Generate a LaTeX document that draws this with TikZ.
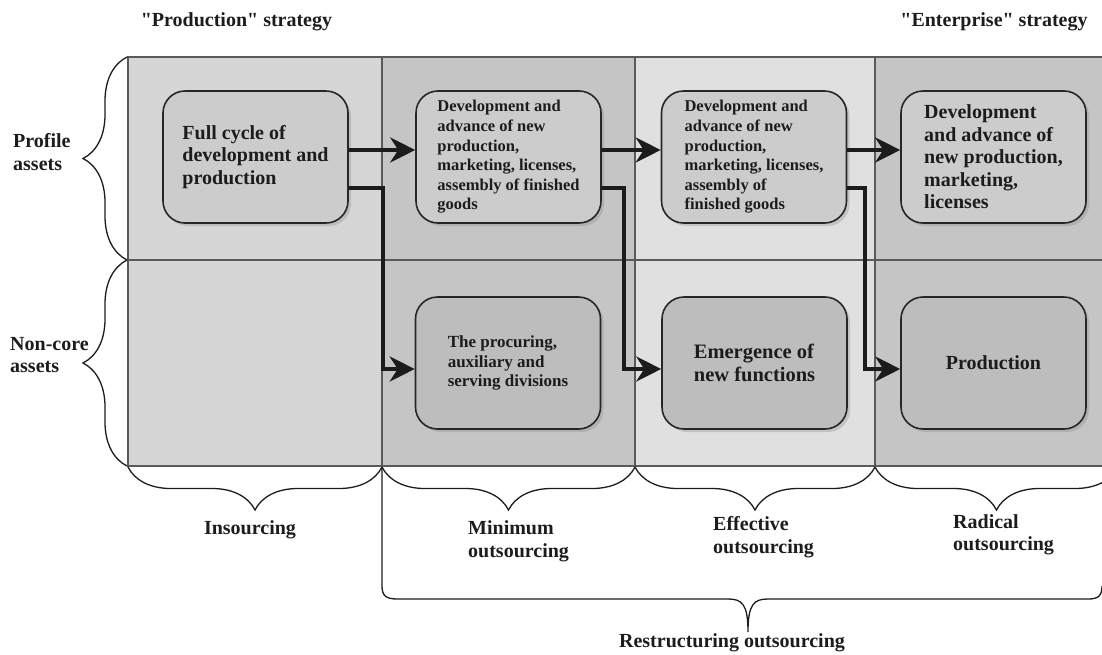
\documentclass[tikz,border=0pt]{standalone}
\usepackage{fontspec}
\setmainfont{Liberation Serif}[Ligatures=TeXOff]
\usepackage{tikz}
\usetikzlibrary{arrows.meta}
\usetikzlibrary{decorations.pathreplacing,shadows}

\definecolor{colA}{HTML}{D6D6D6}
\definecolor{colB}{HTML}{C5C5C5}
\definecolor{colC}{HTML}{E0E0E0}
\definecolor{gridline}{HTML}{5A5A5A}
\definecolor{boxtop}{HTML}{CCCCCC}
\definecolor{boxlow}{HTML}{BDBDBD}
\definecolor{boxline}{HTML}{262626}
\definecolor{inkc}{HTML}{1C1C1C}

\tikzset{
  big/.style={font=\fontsize{20}{22.5}\selectfont\bfseries},
  small/.style={font=\fontsize{16.5}{19.6}\selectfont\bfseries},
  box/.style={draw=boxline,line width=1.6pt,rounded corners=22pt,
    minimum width=185pt,minimum height=132pt,align=left,inner sep=0pt,
    text=inkc,drop shadow={opacity=0.3,shadow xshift=3pt,shadow yshift=-3pt}},
  topbox/.style={box,fill=boxtop},
  lowbox/.style={box,fill=boxlow},
  flow/.style={draw=inkc,line width=4.5pt,
    -{Stealth[length=25pt,width=25pt,inset=8pt]}},
  grp/.style={decorate,decoration={brace,amplitude=44pt},draw=inkc,line width=1.3pt},
  lbl/.style={big,text=inkc,align=left,inner sep=0pt}
}

\begin{document}
\begin{tikzpicture}[x=1pt,y=-1pt]

\useasboundingbox (0,0) rectangle (1102,654);

% columns
\fill[colA] (128,57) rectangle (382,466);
\fill[colB] (382,57) rectangle (635,466);
\fill[colC] (635,57) rectangle (875,466);
\fill[colB] (875,57) rectangle (1102,466);

\draw[gridline,line width=1.4pt] (1102,57) -- (128,57) -- (128,466) -- (1102,466);
\draw[gridline,line width=1.4pt] (128,260) -- (1102,260);
\draw[gridline,line width=1.4pt] (382,57) -- (382,466);
\draw[gridline,line width=1.4pt] (635,57) -- (635,466);
\draw[gridline,line width=1.4pt] (875,57) -- (875,466);

\coordinate (turn_a) at (383,0) ;
\coordinate (turn_b) at (624,0) ;
\coordinate (turn_c) at (865,0) ;

% boxes
\node[topbox,big] (box_full) at (255.5,157) {Full cycle of\\development and\\production};
\node[topbox,small] (box_dev_a) at (508.5,157) {Development and\\advance of new\\production,\\marketing, licenses,\\assembly of finished\\goods};
\node[topbox,small] (box_dev_b) at (754,157) {Development and\\advance of new\\production,\\marketing, licenses,\\assembly of\\finished goods};
\node[topbox,big] (box_dev_c) at (993.5,157) {Development\\and advance of\\new production,\\marketing,\\licenses};

\node[lowbox,font=\fontsize{17}{19.8}\selectfont\bfseries] (box_proc) at (508,363) {The procuring,\\auxiliary and\\serving divisions};
\node[lowbox,font=\fontsize{20.5}{23}\selectfont\bfseries] (box_new) at (754.5,363) {Emergence of\\new functions};
\node[lowbox,big] (box_prod) at (993.5,363) {Production};

% arrows
\draw[flow] ([yshift=7pt]box_full.east) -- ([yshift=7pt]box_dev_a.west);
\draw[flow] ([yshift=7pt]box_dev_a.east) -- ([yshift=7pt]box_dev_b.west);
\draw[flow] ([yshift=7pt]box_dev_b.east) -- ([yshift=7pt]box_dev_c.west);

\coordinate (in_proc) at ([yshift=-6pt]box_proc.west) ;
\coordinate (in_new) at ([yshift=-6pt]box_new.west) ;
\coordinate (in_prod) at ([yshift=-6pt]box_prod.west) ;

\draw[flow] ([yshift=-31pt]box_full.east) -| (in_proc -| turn_a) -- (in_proc);
\draw[flow] ([yshift=-31pt]box_dev_a.east) -| (in_new -| turn_b) -- (in_new);
\draw[flow] ([yshift=-31pt]box_dev_b.east) -| (in_prod -| turn_c) -- (in_prod);

% braces
\draw[grp] (127,260) -- (127,57);
\draw[grp] (127,466) -- (127,260);

\draw[grp,decoration={amplitude=43pt}] (382,467) -- (128,467);
\draw[grp,decoration={amplitude=43pt}] (635,467) -- (382,467);
\draw[grp,decoration={amplitude=43pt}] (875,467) -- (635,467);
\draw[grp,decoration={amplitude=43pt}] (1118,467) -- (875,467);

\draw[inkc,line width=1.3pt] (382,467) -- (382,586)
  .. controls (382,596) and (386,599) .. (398,599) -- (728,599)
  .. controls (742,599) and (748,604) .. (748,632)
  .. controls (748,604) and (754,599) .. (768,599) -- (1088,599)
  .. controls (1098,599) and (1102,596) .. (1102,586);

% labels
\node[lbl] (lbl_prodstrat) at (236.5,22) {"Production" strategy};
\node[lbl] (lbl_entstrat) at (994,22) {"Enterprise" strategy};

\node[lbl,anchor=west] (lbl_profile) at (13,152) {Profile\\assets};
\node[lbl,anchor=west] (lbl_noncore) at (10,355) {Non-core\\assets};

\node[lbl] (lbl_in) at (250,530) {Insourcing};
\node[lbl,anchor=west] (lbl_min) at (468,541.5) {Minimum\\outsourcing};
\node[lbl,anchor=west] (lbl_eff) at (713,537) {Effective\\outsourcing};
\node[lbl,anchor=west] (lbl_rad) at (953,535) {Radical\\outsourcing};
\node[lbl] (lbl_restr) at (732,643) {Restructuring outsourcing};

\end{tikzpicture}
\end{document}
